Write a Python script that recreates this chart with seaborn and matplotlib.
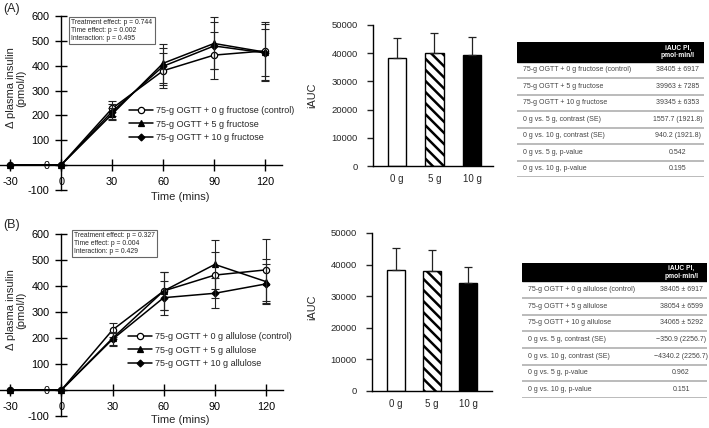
import numpy as np
import pandas as pd
import matplotlib
matplotlib.use('Agg')
import matplotlib.pyplot as plt
import seaborn as sns
from matplotlib.patches import Rectangle

# Time points (mins)
time = [-30, 0, 30, 60, 90, 120]

# Panel A - fructose, delta plasma insulin (pmol/l) and error
fru_0 = [0, 0, 228, 380, 443, 460]
fru_0_err = [0, 0, 30, 70, 95, 118]
fru_5 = [0, 0, 205, 410, 490, 455]
fru_5_err = [0, 0, 25, 78, 105, 115]
fru_10 = [0, 0, 215, 398, 480, 452]
fru_10_err = [0, 0, 30, 75, 95, 95]

# Panel B - allulose
allu_0 = [0, 0, 231, 381, 442, 462]
allu_0_err = [0, 0, 28, 72, 90, 118]
allu_5 = [0, 0, 199, 381, 483, 417]
allu_5_err = [0, 0, 25, 72, 95, 85]
allu_10 = [0, 0, 195, 355, 372, 408]
allu_10_err = [0, 0, 25, 65, 57, 75]

# iAUC bars
doses = ['0 g', '5 g', '10 g']
iauc_fru = [38405, 39963, 39345]
iauc_fru_se = [6917, 7285, 6353]
iauc_allu = [38405, 38054, 34065]
iauc_allu_se = [6917, 6599, 5292]

# stats text
stats_a = ['Treatment effect: p = 0.744', 'Time effect: p = 0.002', 'Interaction: p = 0.495']
stats_b = ['Treatment effect: p = 0.327', 'Time effect: p = 0.004', 'Interaction: p = 0.429']

# tables
table_header = 'iAUC PI,\npmol·min/l'
table_a_rows = ['75-g OGTT + 0 g fructose (control)', '75-g OGTT + 5 g fructose', '75-g OGTT + 10 g fructose',
                '0 g vs. 5 g, contrast (SE)', '0 g vs. 10 g, contrast (SE)', '0 g vs. 5 g, p-value', '0 g vs. 10 g, p-value']
table_a_vals = ['38405 ± 6917', '39963 ± 7285', '39345 ± 6353', '1557.7 (1921.8)', '940.2 (1921.8)', '0.542', '0.195']
table_b_rows = ['75-g OGTT + 0 g allulose (control)', '75-g OGTT + 5 g allulose', '75-g OGTT + 10 g allulose',
                '0 g vs. 5 g, contrast (SE)', '0 g vs. 10 g, contrast (SE)', '0 g vs. 5 g, p-value', '0 g vs. 10 g, p-value']
table_b_vals = ['38405 ± 6917', '38054 ± 6599', '34065 ± 5292', '\u2212350.9 (2256.7)', '\u22124340.2 (2256.7)', '0.962', '0.151']

sns.set_style('ticks')
plt.rcParams['font.family'] = ['Liberation Sans', 'DejaVu Sans']
plt.rcParams['hatch.linewidth'] = 1.8
plt.rcParams['axes.unicode_minus'] = False

W, H = 709, 428
fig = plt.figure(figsize=(W / 100, H / 100), dpi=100)


def px_axes(l, t, r, b):
    return fig.add_axes([l / W, 1 - b / H, (r - l) / W, (b - t) / H])


def line_panel(box, series, labels, stats, legend_xy, xlabel_y, ylabel_y, stats_xy):
    ax = px_axes(*box)
    markers = [dict(marker='o', markerfacecolor='white', markersize=4.5),
               dict(marker='^', markerfacecolor='black', markersize=4.5),
               dict(marker='D', markerfacecolor='black', markersize=3.5)]
    handles = []
    for (vals, err), lab, mk in zip(series, labels, markers):
        df = pd.DataFrame({'time': time, 'insulin': vals})
        sns.lineplot(data=df, x='time', y='insulin', ax=ax, color='black', lw=1.1,
                     markeredgecolor='black', markeredgewidth=0.9, label=lab, **mk)
        handles.append(ax.lines[-1])
        ax.errorbar(time[2:], vals[2:], yerr=err[2:], fmt='none', ecolor='#222222',
                    elinewidth=0.8, capsize=3, capthick=0.8)
    ax.set_xlim(-36, 130)
    ax.set_ylim(-105, 610)
    ax.spines['top'].set_visible(False)
    ax.spines['right'].set_visible(False)
    ax.spines['left'].set_position(('data', 0))
    ax.spines['left'].set_bounds(-100, 600)
    ax.spines['bottom'].set_position(('data', 0))
    for s in ['left', 'bottom']:
        ax.spines[s].set_linewidth(1.0)
        ax.spines[s].set_color('black')
    ax.set_xticks([-30, 0, 30, 60, 90, 120])
    ax.set_yticks(range(-100, 601, 100))
    ax.tick_params(direction='inout', length=8, width=1.0, pad=4.5, labelsize=7.8, colors='black')
    ax.set_xlabel('')
    ax.set_ylabel('')
    ax.patch.set_alpha(0)
    ax.legend(handles=handles, labels=labels, loc='upper left', frameon=False, fontsize=6.5,
              bbox_to_anchor=(legend_xy[0] / W, 1 - legend_xy[1] / H), bbox_transform=fig.transFigure,
              handlelength=2.7, handletextpad=0.25, labelspacing=0.5, borderpad=0, borderaxespad=0)
    fig.text(180 / W, 1 - xlabel_y / H, 'Time (mins)', ha='center', va='center', fontsize=8)
    fig.text(16 / W, 1 - ylabel_y / H, 'Δ plasma insulin\n(pmol/l)', ha='center', va='center',
             rotation=90, fontsize=8, linespacing=1.1)
    fig.text(stats_xy[0] / W, 1 - stats_xy[1] / H, '\n'.join(stats), ha='left', va='top', fontsize=4.9,
             linespacing=1.2,
             bbox=dict(boxstyle='square,pad=0.35', fc='white', ec='#666666', lw=0.8))
    return ax


def bar_panel(box, xlim, vals, se, label_y):
    ax = px_axes(*box)
    df = pd.DataFrame({'dose': doses, 'iauc': vals})
    sns.barplot(data=df, x='dose', y='iauc', hue='dose', palette=['white', 'white', 'black'],
                legend=False, width=0.5, edgecolor='black', linewidth=1.0, ax=ax)
    ax.patches[1].set_hatch('\\\\\\')
    ax.errorbar(range(3), vals, yerr=[np.zeros(3), se], fmt='none', ecolor='#222222',
                elinewidth=0.9, capsize=3.2, capthick=0.9)
    ax.set_xlim(*xlim)
    ax.set_ylim(0, 50000)
    ax.set_yticks(range(0, 50001, 10000))
    sns.despine(ax=ax)
    for s in ['left', 'bottom']:
        ax.spines[s].set_linewidth(1.0)
        ax.spines[s].set_color('black')
    ax.tick_params(axis='y', direction='out', length=4, width=1.0, pad=7, labelsize=6.8)
    ax.tick_params(axis='x', length=0, pad=6, labelsize=7)
    ax.set_xlabel('')
    ax.set_ylabel('')
    fig.text(312 / W, 1 - label_y / H, 'iAUC', ha='center', va='center', rotation=90, fontsize=7.8)
    return ax


def draw_table(box, rows, vals, head_h):
    ax = px_axes(*box)
    n = len(rows)
    ax.set_xlim(0, 1)
    ax.set_ylim(n + head_h, 0)
    ax.axis('off')
    ax.add_patch(Rectangle((0, 0), 1, head_h, color='black'))
    ax.text(0.86, head_h / 2, table_header, color='white', ha='center', va='center',
            fontsize=4.8, fontweight='bold', linespacing=1.2)
    for i, (lab, val) in enumerate(zip(rows, vals)):
        y = head_h + i + 0.5
        ax.text(0.03, y, lab, ha='left', va='center', fontsize=5.0, color='#444444')
        ax.text(0.86, y, val, ha='center', va='center', fontsize=5.0, color='#444444')
        ax.axhline(head_h + i + 1, color='#b5b5b5', lw=1.3)


# Panel A
line_panel((0, 13.7, 282, 191), [(fru_0, fru_0_err), (fru_5, fru_5_err), (fru_10, fru_10_err)],
           ['75-g OGTT + 0 g fructose (control)', '75-g OGTT + 5 g fructose', '75-g OGTT + 10 g fructose'],
           stats_a, (129, 106), 197, 88, (71, 19))
bar_panel((373, 25, 493, 166), (-0.64, 2.56), iauc_fru, iauc_fru_se, 95)
draw_table((517, 42, 704, 177), table_a_rows, table_a_vals, 1.2)

# Panel B
line_panel((0, 231.4, 283, 417.3), [(allu_0, allu_0_err), (allu_5, allu_5_err), (allu_10, allu_10_err)],
           ['75-g OGTT + 0 g allulose (control)', '75-g OGTT + 5 g allulose', '75-g OGTT + 10 g allulose'],
           stats_b, (128, 332), 420, 310, (74, 232))
bar_panel((372, 233, 492, 391), (-0.667, 2.667), iauc_allu, iauc_allu_se, 307)
draw_table((522, 263, 707, 398), table_b_rows, table_b_vals, 1.1)

fig.text(3 / W, 1 - 9 / H, '(A)', ha='left', va='center', fontsize=9)
fig.text(3 / W, 1 - 225 / H, '(B)', ha='left', va='center', fontsize=9)

plt.savefig('out.png', dpi=100)
